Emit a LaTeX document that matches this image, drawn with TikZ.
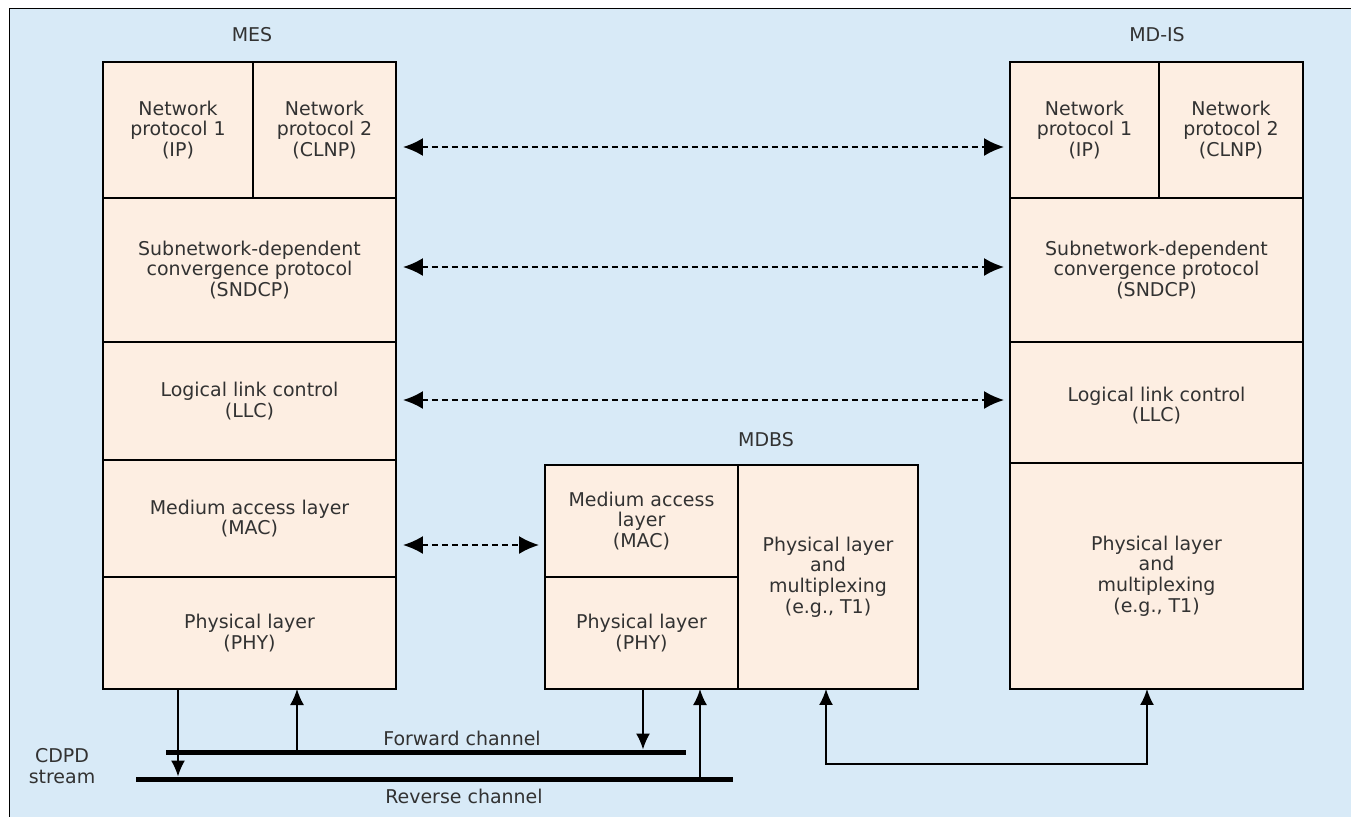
\documentclass[tikz,border=0pt]{standalone}
\usepackage{fontspec}
\setmainfont{DejaVu Sans}
\usetikzlibrary{arrows.meta}
\usetikzlibrary{calc}
\tikzset{>=latex}
\definecolor{paleblue}{RGB}{216,234,247}
\definecolor{palepeach}{RGB}{253,238,226}
\definecolor{labelgray}{RGB}{50,50,50}
\tikzstyle{layerbox}=[draw=black,fill=palepeach,line width=0.35mm,inner sep=0pt,outer sep=0pt,align=center,text=labelgray,font=\fontsize{10.8}{11.8}\selectfont]
\tikzstyle{stacklabel}=[text=labelgray,align=center,font=\fontsize{10.8}{11.8}\selectfont]
\tikzstyle{peerarrow}=[draw=black,line width=0.4mm,dash pattern=on 0.12cm off 0.08cm,{Latex[length=4mm,width=3.6mm]}-{Latex[length=4mm,width=3.6mm]},shorten <=0.14cm,shorten >=0.12cm]
\tikzstyle{chanline}=[draw=black,line width=1mm]
\tikzstyle{feedarrow}=[draw=black,line width=0.35mm,-{Latex[length=3.2mm,width=2.8mm]}]

\begin{document}
\begin{tikzpicture}[x=0.02cm,y=-0.02cm]
  \useasboundingbox (0,0) rectangle (1351,816);
  \fill[white] (0,0) rectangle (1351,816);
  \draw[fill=paleblue,line width=0.15mm] (9,8) rectangle (1370,830);

  % MES
  \node[stacklabel] (meslabel) at (252,35) {MES};
  \node[layerbox,minimum width=3.0cm,minimum height=2.72cm] (mesnpa) at (178,130) {Network\\protocol 1\\(IP)};
  \node[layerbox,minimum width=2.86cm,minimum height=2.72cm] (mesnpb) at (324.5,130) {Network\\protocol 2\\(CLNP)};
  \node[layerbox,minimum width=5.86cm,minimum height=2.88cm] (messndcp) at (249.5,270) {Subnetwork-dependent\\convergence protocol\\(SNDCP)};
  \node[layerbox,minimum width=5.86cm,minimum height=2.36cm] (mesllc) at (249.5,401) {Logical link control\\(LLC)};
  \node[layerbox,minimum width=5.86cm,minimum height=2.34cm] (mesmac) at (249.5,518.5) {Medium access layer\\(MAC)};
  \node[layerbox,minimum width=5.86cm,minimum height=2.24cm] (mesphy) at (249.5,633) {Physical layer\\(PHY)};

  % MD-IS
  \node[stacklabel] (mdislabel) at (1157,35) {MD-IS};
  \node[layerbox,minimum width=2.98cm,minimum height=2.72cm] (mdisnpa) at (1084.5,130) {Network\\protocol 1\\(IP)};
  \node[layerbox,minimum width=2.88cm,minimum height=2.72cm] (mdisnpb) at (1231,130) {Network\\protocol 2\\(CLNP)};
  \node[layerbox,minimum width=5.86cm,minimum height=2.88cm] (mdissndcp) at (1156.5,270) {Subnetwork-dependent\\convergence protocol\\(SNDCP)};
  \node[layerbox,minimum width=5.86cm,minimum height=2.42cm] (mdisllc) at (1156.5,402.5) {\\Logical link control\\(LLC)};
  \node[layerbox,minimum width=5.86cm,minimum height=4.52cm] (mdisphy) at (1156.5,576) {Physical layer\\and\\multiplexing\\(e.g., T1)};

  % MDBS
  \node[stacklabel] (mdbslabel) at (766,440) {MDBS};
  \node[layerbox,minimum width=3.86cm,minimum height=2.24cm] (mdbsmac) at (641.5,521) {Medium access\\layer\\(MAC)};
  \node[layerbox,minimum width=3.86cm,minimum height=2.24cm] (mdbsphy) at (641.5,633) {Physical layer\\(PHY)};
  \node[layerbox,minimum width=3.6cm,minimum height=4.48cm] (mdbsmux) at (828,577) {Physical layer\\and\\multiplexing\\(e.g., T1)};

  % peer protocols
  \draw[peerarrow] ([yshift=-0.34cm]mesnpb.east) -- ([yshift=-0.34cm]mesnpb.east -| mdisnpa.west);
  \draw[peerarrow] ([yshift=0.06cm]messndcp.east) -- ([yshift=0.06cm]messndcp.east -| mdissndcp.west);
  \draw[peerarrow] ([yshift=0.02cm]mesllc.east) -- ([yshift=0.02cm]mesllc.east -| mdisllc.west);
  \draw[peerarrow] ([yshift=-0.53cm]mesmac.east) -- ([yshift=-0.53cm]mesmac.east -| mdbsmac.west);

  % CDPD stream
  \coordinate (fwdleft) at (166,752);
  \coordinate (fwdright) at (686,752);
  \coordinate (revleft) at (136,779);
  \coordinate (revright) at (733,779);
  \draw[chanline] (fwdleft) -- (fwdright);
  \draw[chanline] (revleft) -- (revright);
  \node[stacklabel] (fwdlabel) at (462,738) {Forward channel};
  \node[stacklabel] (revlabel) at (464,796) {Reverse channel};
  \node[stacklabel] (cdpdlabel) at (62,766) {CDPD\\stream};

  \coordinate (mesdown) at (178,779);
  \coordinate (mesup) at (297,752);
  \coordinate (mdbsdown) at (643,752);
  \coordinate (mdbsup) at (700,779);
  \draw[feedarrow] (mesdown |- mesphy.south) -- ([yshift=0.05cm]mesdown);
  \draw[feedarrow] ([yshift=0.05cm]mesup) -- (mesup |- mesphy.south);
  \draw[feedarrow] (mdbsdown |- mdbsphy.south) -- ([yshift=0.05cm]mdbsdown);
  \draw[feedarrow] ([yshift=0.05cm]mdbsup) -- (mdbsup |- mdbsphy.south);

  % MDBS to MD-IS
  \coordinate (linkleft) at (826,764);
  \coordinate (linkright) at (1147,764);
  \draw[feedarrow,{Latex[length=3.2mm,width=2.8mm]}-{Latex[length=3.2mm,width=2.8mm]}] (linkleft |- mdbsmux.south) -- (linkleft) -- (linkright) -- (linkright |- mdisphy.south);
\end{tikzpicture}
\end{document}
